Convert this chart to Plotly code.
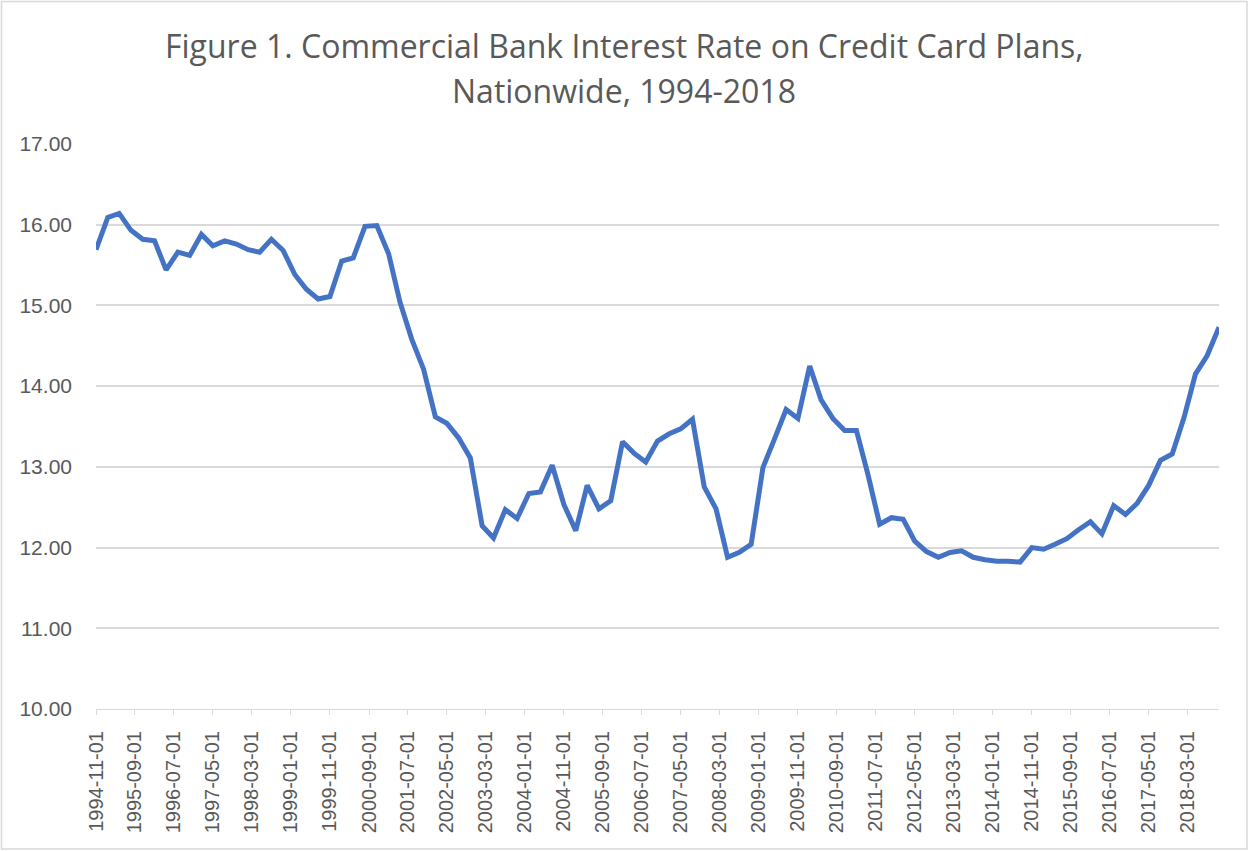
import pandas as pd
import plotly.graph_objects as go

# Quarterly observations starting 1994-11-01 (Feb, May, Aug, Nov)
start_date = "1994-11-01"
rates = [
    15.69, 16.09, 16.14, 15.93, 15.82, 15.80, 15.44, 15.66, 15.62, 15.88,
    15.74, 15.80, 15.76, 15.69, 15.66, 15.82, 15.68, 15.38, 15.20, 15.08,
    15.11, 15.55, 15.59, 15.98, 15.99, 15.64, 15.04, 14.58, 14.21, 13.62,
    13.54, 13.36, 13.11, 12.27, 12.12, 12.47, 12.36, 12.67, 12.69, 13.02,
    12.53, 12.21, 12.77, 12.48, 12.58, 13.31, 13.17, 13.06, 13.32, 13.41,
    13.47, 13.59, 12.75, 12.48, 11.88, 11.94, 12.04, 12.99, 13.34, 13.71,
    13.60, 14.25, 13.83, 13.60, 13.45, 13.45, 12.91, 12.29, 12.37, 12.35,
    12.08, 11.95, 11.88, 11.94, 11.96, 11.88, 11.85, 11.83, 11.83, 11.82,
    12.00, 11.98, 12.04, 12.11, 12.22, 12.32, 12.17, 12.52, 12.41, 12.55,
    12.77, 13.08, 13.16, 13.61, 14.15, 14.38, 14.73,
]
dates = pd.date_range(start=start_date, periods=len(rates), freq="3MS")

tick_labels = [
    "1994-11-01", "1995-09-01", "1996-07-01", "1997-05-01", "1998-03-01",
    "1999-01-01", "1999-11-01", "2000-09-01", "2001-07-01", "2002-05-01",
    "2003-03-01", "2004-01-01", "2004-11-01", "2005-09-01", "2006-07-01",
    "2007-05-01", "2008-03-01", "2009-01-01", "2009-11-01", "2010-09-01",
    "2011-07-01", "2012-05-01", "2013-03-01", "2014-01-01", "2014-11-01",
    "2015-09-01", "2016-07-01", "2017-05-01", "2018-03-01",
]

title_line1 = "Figure 1. Commercial Bank Interest Rate on Credit Card Plans,"
title_line2 = "Nationwide, 1994-2018"

grey_text = "#595959"
grid = "#d9d9d9"

fig = go.Figure()
fig.add_trace(go.Scatter(
    x=dates, y=rates, mode="lines",
    line=dict(color="#4472C4", width=5),
    showlegend=False,
))

fig.update_layout(
    width=1249, height=851,
    margin=dict(l=96, r=30, t=144, b=142),
    paper_bgcolor="white", plot_bgcolor="white",
    font=dict(family="Liberation Sans", color=grey_text),
    annotations=[
        dict(text=title_line1, xref="paper", yref="paper", x=0.4706, y=1.1735,
             xanchor="center", yanchor="middle", showarrow=False,
             font=dict(family="Open Sans", size=32, color=grey_text)),
        dict(text=title_line2, xref="paper", yref="paper", x=0.4706, y=1.0955,
             xanchor="center", yanchor="middle", showarrow=False,
             font=dict(family="Open Sans", size=32, color=grey_text)),
    ],
    shapes=[
        dict(type="rect", xref="paper", yref="paper",
             x0=-0.08415, x1=1.02493, y0=-0.24779, y1=1.25221,
             line=dict(color=grid, width=1.5), layer="below"),
    ],
)

fig.update_xaxes(
    type="date",
    range=[dates[0], dates[-1]],
    tickmode="array",
    tickvals=tick_labels,
    ticktext=tick_labels,
    tickangle=-90,
    ticks="outside", ticklen=5, tickcolor=grid, tickwidth=1,
    ticklabelstandoff=8,
    showline=True, linecolor=grid, linewidth=1,
    showgrid=False, zeroline=False,
    tickfont=dict(family="Liberation Sans", size=20, color=grey_text),
)

fig.update_yaxes(
    range=[10, 17], dtick=1, tick0=10, tickformat=".2f",
    showgrid=True, gridcolor=grid, gridwidth=1.5,
    zeroline=False, showline=False, ticks="",
    ticklabelstandoff=23,
    tickfont=dict(family="Liberation Sans", size=21, color=grey_text),
)

fig.write_html("out.html")
